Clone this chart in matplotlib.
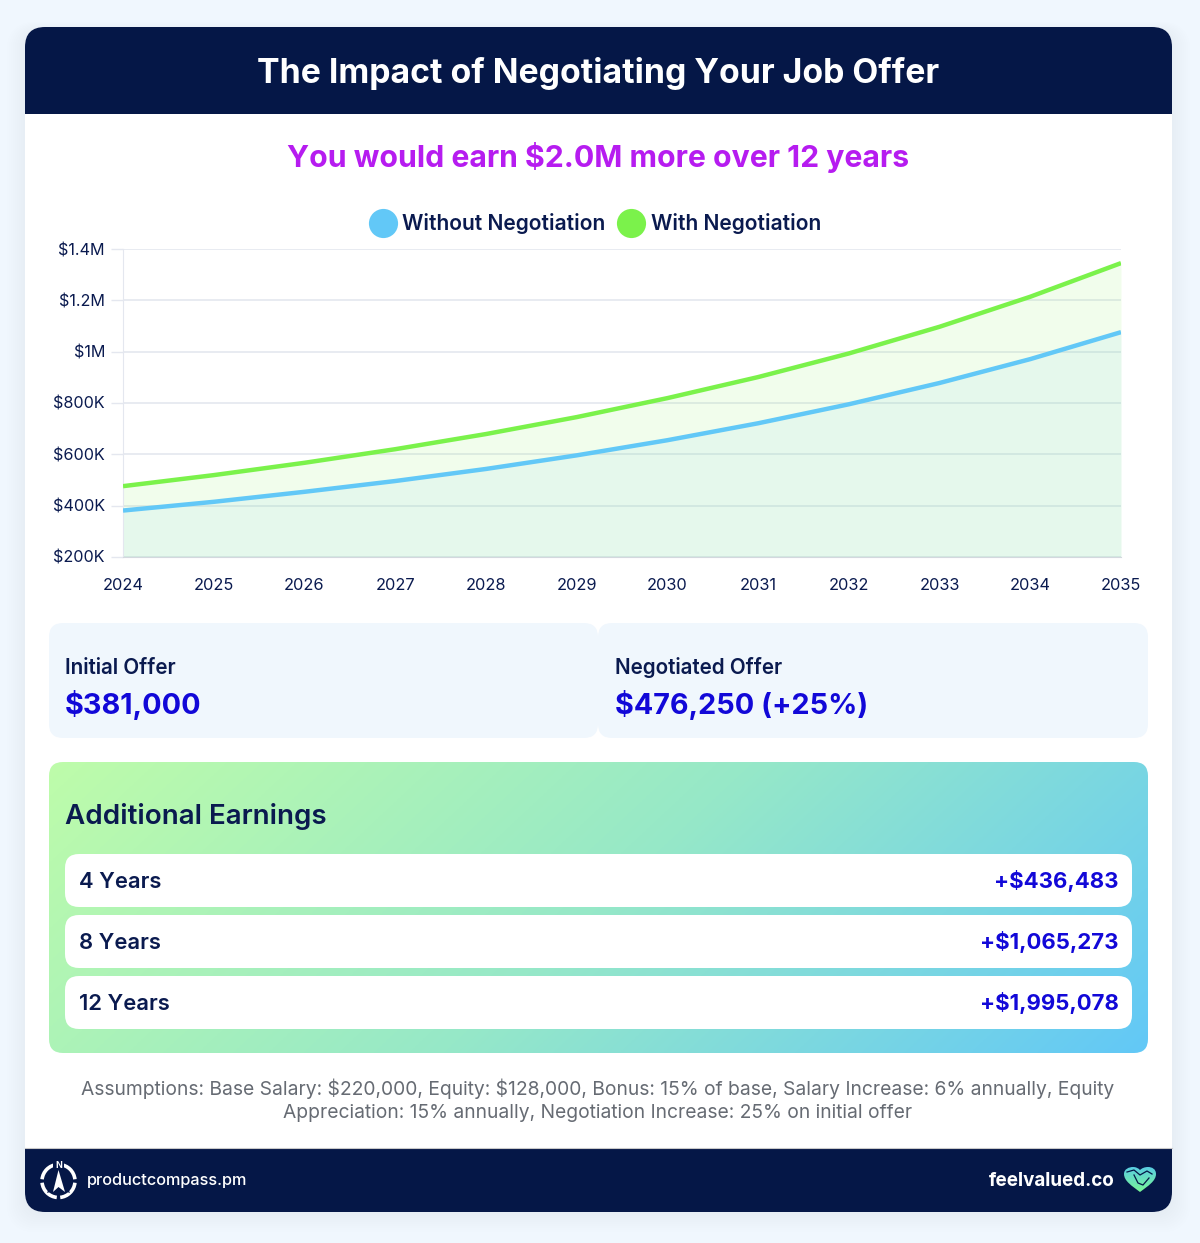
import numpy as np
import matplotlib
matplotlib.use("Agg")
import matplotlib.pyplot as plt
from matplotlib.lines import Line2D
from matplotlib.patches import FancyBboxPatch, Arc, Polygon, PathPatch
from matplotlib.path import Path

years = [2024, 2025, 2026, 2027, 2028, 2029, 2030, 2031, 2032, 2033, 2034, 2035]
without_neg = [381000, 415000, 454000, 496000, 543000, 596000, 655000, 721000, 795000, 878000, 971000, 1076000]
with_neg = [476000, 519000, 567000, 620000, 679000, 745000, 819000, 901000, 993000, 1097000, 1214000, 1345000]
y_ticks = [200000, 400000, 600000, 800000, 1000000, 1200000, 1400000]
y_tick_labels = [r"\$200K", r"\$400K", r"\$600K", r"\$800K", r"\$1M", r"\$1.2M", r"\$1.4M"]
series_names = ["Without Negotiation", "With Negotiation"]
offer_labels = ["Initial Offer", "Negotiated Offer"]
offer_values = [r"\$381,000", r"\$476,250 (+25%)"]
earn_labels = ["4 Years", "8 Years", "12 Years"]
earn_values = [r"+\$436,483", r"+\$1,065,273", r"+\$1,995,078"]

NAVY = "#051747"
INK = "#0a1a4f"
BLUE_TXT = "#1208d8"
LINE_BLUE = "#62c8f7"
LINE_GREEN = "#7bf24b"
W, H = 1200, 1243


def px(size):
    return size * 0.72


def rbox(ax, x0, y0, x1, y1, r, color, z=1, **kw):
    p = FancyBboxPatch((x0 + r, y0 + r), x1 - x0 - 2 * r, y1 - y0 - 2 * r,
                       boxstyle=f"round,pad={r},rounding_size={r}",
                       fc=color, ec="none", zorder=z, **kw)
    ax.add_patch(p)
    return p


def label(ax, x, y, s, size, color=INK, weight="normal", ha="left", family="Inter", z=6):
    # Inter sits a little high against the reference, so nudge down
    return ax.text(x, y + 1.5, s, fontsize=px(size), color=color, fontweight=weight, ha=ha,
                   va="center", family=family, zorder=z)


fig = plt.figure(figsize=(12, 12.43), dpi=100, facecolor="#f0f7fe")
bg = fig.add_axes([0, 0, 1, 1], zorder=0)
bg.set_xlim(0, W)
bg.set_ylim(H, 0)
bg.axis("off")

# soft card shadow
for i in range(10):
    rbox(bg, 25 - i * 2, 27 - i + 4, 1172 + i * 2, 1212 + i * 2 + 2, 20 + i, "#c4cfe0", z=0.5, alpha=0.018)

# card, header and footer
rbox(bg, 25, 27, 1172, 1212, 20, "white", z=1)
rbox(bg, 25, 27, 1172, 140, 20, NAVY, z=2)
bg.fill_between([25, 1172], 60, 114, color=NAVY, lw=0, zorder=2.1)
bg.fill_between([25, 1172], 114, 140, color="white", lw=0, zorder=2.2)
rbox(bg, 25, 1120, 1172, 1212, 20, NAVY, z=2)
bg.fill_between([25, 1172], 1148, 1190, color=NAVY, lw=0, zorder=2.1)
bg.fill_between([25, 1172], 1110, 1148, color="white", lw=0, zorder=2.2)
bg.plot([25, 1172], [1147.5, 1147.5], color="#c9c9c9", lw=0.8, zorder=2.3)

label(bg, 598, 71.5, "The Impact of Negotiating Your Job Offer", 33.8, "white", "bold", "center")
label(bg, 598, 156, r"You would earn \$2.0M more over 12 years", 30.2, "#b61cf0", "bold", "center")

# offer cards
rbox(bg, 49, 623, 598, 738, 14, "#f0f7fd", z=2)
rbox(bg, 598, 623, 1148, 738, 14, "#f0f7fd", z=2)
for x, a, b in zip([65, 615], offer_labels, offer_values):
    label(bg, x, 666, a, 20.6, INK, "semibold")
    label(bg, x, 703, b, 28.8, BLUE_TXT, "bold")

# gradient panel
g = np.linspace(0, 1, 300)
gx, gy = np.meshgrid(g, g)
t = np.clip(gx * 0.78 + gy * 0.22, 0, 1)[..., None]
c0 = np.array([190, 252, 170]) / 255
c1 = np.array([98, 200, 247]) / 255
c2 = np.array([150, 232, 200]) / 255
grad = np.where(t < 0.5, c0 + (c2 - c0) * t * 2, c2 + (c1 - c2) * (t - 0.5) * 2)
im = bg.imshow(grad, extent=(49, 1148, 1053, 762), aspect="auto", zorder=2)
im.set_clip_path(rbox(bg, 49, 762, 1148, 1053, 14, "none", z=1.5))
bg.set_xlim(0, W)
bg.set_ylim(H, 0)

label(bg, 65, 815, "Additional Earnings", 27.8, INK, "semibold")
for y0, a, b in zip([854, 915, 976], earn_labels, earn_values):
    rbox(bg, 65, y0, 1132, y0 + 53, 14, "white", z=3)
    label(bg, 79, y0 + 26.5, a, 22, INK, "semibold")
    label(bg, 1118.5, y0 + 25.5, b, 22.2, BLUE_TXT, "bold", "right")

label(bg, 598, 1087.5, r"Assumptions: Base Salary: \$220,000, Equity: \$128,000, Bonus: 15% of base, Salary Increase: 6% annually, Equity",
      19.25, "#666b73", "normal", "center")
label(bg, 598, 1111.5, "Appreciation: 15% annually, Negotiation Increase: 25% on initial offer",
      19.25, "#666b73", "normal", "center")

# footer logos
for a1, a2 in [(6, 84), (96, 174), (186, 264), (276, 354)]:
    bg.add_patch(Arc((58.5, 1181), 33, 33, theta1=a1, theta2=a2, color="white", lw=2.6, zorder=5))
bg.add_patch(Polygon([(58.5, 1166), (70, 1193), (58.5, 1189), (47, 1193)], fc=NAVY, ec="none", zorder=5.5))
bg.add_patch(Polygon([(58.5, 1170), (65, 1192), (58.5, 1187), (53, 1192)], fc="white", ec="none", zorder=6))
bg.add_patch(Polygon([(53, 1160), (64, 1160), (64, 1171), (53, 1171)], fc=NAVY, ec="none", zorder=5.2))
label(bg, 58.5, 1163.5, "N", 9, "white", "bold", "center")
label(bg, 87, 1179.5, "productcompass.pm", 16.3, "white", "medium")
label(bg, 1115, 1179.5, "feelvalued.co", 18.8, "white", "bold", "right")

heart = Path([(1140, 1192), (1132, 1186), (1124, 1181), (1124, 1174), (1124, 1169), (1129, 1167), (1133, 1167),
              (1136, 1167), (1138, 1168), (1140, 1170),
              (1142, 1168), (1145, 1167), (1148, 1167), (1152, 1167), (1156, 1169), (1156, 1174),
              (1156, 1181), (1148, 1186), (1140, 1192)],
             [Path.MOVETO] + [Path.CURVE4] * 18)
hp = PathPatch(heart, fc="none", ec="none", zorder=4)
bg.add_patch(hp)
hg = np.linspace(0, 1, 40)[:, None, None] * (np.array([120, 245, 150]) - np.array([90, 205, 225])) / 255 + np.array([90, 205, 225]) / 255
him = bg.imshow(hg, extent=(1124, 1156, 1192, 1167), aspect="auto", zorder=5)
him.set_clip_path(hp)
bg.plot([1127, 1134, 1140, 1147, 1152], [1172, 1170, 1175, 1171, 1174], color=NAVY, lw=0.9, zorder=6)
bg.plot([1134, 1138, 1143, 1149], [1175, 1183, 1185, 1178], color=NAVY, lw=0.9, zorder=6)
bg.set_xlim(0, W)
bg.set_ylim(H, 0)

# the chart itself
ax = fig.add_axes([123 / W, 1 - 557 / H, (1121 - 123) / W, (557 - 249) / H], zorder=3)
ax.patch.set_alpha(0)
ax.fill_between(years, 200000, with_neg, color=LINE_GREEN, alpha=0.1, lw=0, zorder=2)
ax.fill_between(years, 200000, without_neg, color=LINE_BLUE, alpha=0.08, lw=0, zorder=2.1)
ax.plot(years, with_neg, color=LINE_GREEN, lw=3.2, label=series_names[1], zorder=3, solid_capstyle="butt")
ax.plot(years, without_neg, color=LINE_BLUE, lw=3.2, label=series_names[0], zorder=3.1, solid_capstyle="butt")
ax.set_xlim(2024, 2035)
ax.set_ylim(200000, 1400000)
ax.set_xticks(years)
ax.set_yticks(y_ticks)
ax.set_yticklabels(y_tick_labels)
ax.grid(axis="y", color="#e4e7ef", lw=1.2)
ax.set_axisbelow(True)
ax.tick_params(axis="y", length=9, width=1, color="#e4e7ef", pad=4, labelsize=px(16.2), labelcolor=INK)
ax.tick_params(axis="x", length=0, pad=15, labelsize=px(16.4), labelcolor=INK)
for name in ["top", "right"]:
    ax.spines[name].set_visible(False)
ax.spines["left"].set_color("#e4e7ef")
ax.spines["bottom"].set_color("#d3d8de")
for tl in ax.get_xticklabels() + ax.get_yticklabels():
    tl.set_family("Inter")

handles = [Line2D([], [], ls="", marker="o", ms=21, mfc=c, mec="none") for c in (LINE_BLUE, LINE_GREEN)]
leg = ax.legend(handles, series_names, ncol=2, frameon=False, loc="center", bbox_to_anchor=(595 / W, 1 - 224 / H),
                bbox_transform=fig.transFigure, prop={"family": "Inter", "weight": "semibold", "size": px(21)},
                columnspacing=0.55, handletextpad=0.3, handlelength=1.3, borderpad=0)
for tx in leg.get_texts():
    tx.set_color(INK)

fig.savefig("out.png", dpi=100, facecolor=fig.get_facecolor())
